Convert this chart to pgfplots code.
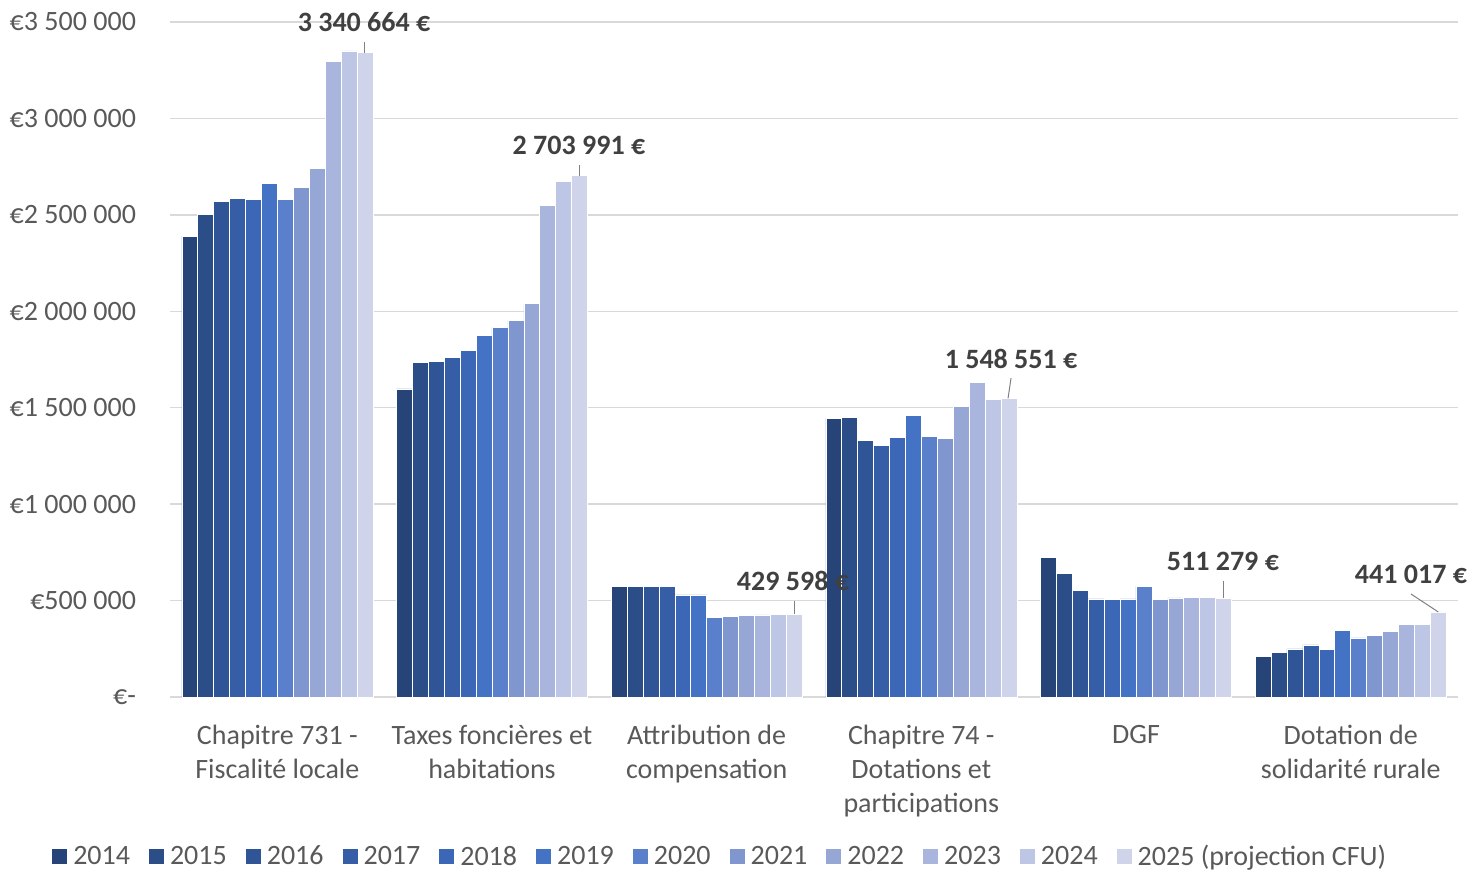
\documentclass[border=0pt]{standalone}
\usepackage{fontspec}
\setmainfont{Carlito}
\usepackage{pgfplots}
\pgfplotsset{compat=1.18}
\definecolor{c14}{HTML}{264478}
\definecolor{c15}{HTML}{2B4D88}
\definecolor{c16}{HTML}{305597}
\definecolor{c17}{HTML}{365EA7}
\definecolor{c18}{HTML}{3B67B6}
\definecolor{c19}{HTML}{4472C4}
\definecolor{c20}{HTML}{5B80CB}
\definecolor{c21}{HTML}{7F96CE}
\definecolor{c22}{HTML}{96A7D6}
\definecolor{c23}{HTML}{AAB5DD}
\definecolor{c24}{HTML}{BEC6E5}
\definecolor{c25}{HTML}{CFD4EA}
\definecolor{gridgray}{HTML}{D9D9D9}
\definecolor{txtgray}{HTML}{595959}
\definecolor{lblgray}{HTML}{404040}
\begin{document}
\begin{tikzpicture}
\useasboundingbox (-85pt,-86.5pt) rectangle (649.5pt,348.5pt);
\begin{axis}[
  scale only axis, width=644pt, height=337.5pt,
  xmin=-0.5, xmax=5.5, ymin=0, ymax=3500000,
  ybar=0pt, bar width=7.96pt,
  axis line style={draw=none},
  major tick length=0pt,
  ymajorgrids, grid style={draw=gridgray, line width=0.75pt},
  scaled y ticks=false,
  ytick={0,500000,1000000,1500000,2000000,2500000,3000000,3500000},
  yticklabels={€-,€500 000,€1 000 000,€1 500 000,€2 000 000,€2 500 000,€3 000 000,€3 500 000},
  yticklabel style={font=\fontsize{14}{17}\selectfont, text=txtgray, xshift=-13.5pt},
  xtick={0,1,2,3,4,5},
  xticklabels={{Chapitre 731 -\\Fiscalité locale},{Taxes foncières et\\habitations},{Attribution de\\compensation},{Chapitre 74 -\\Dotations et\\participations},{DGF},{Dotation de\\solidarité rurale}},
  xticklabel style={font=\fontsize{14}{17}\selectfont, text=txtgray, align=center, yshift=-10.5pt},
  clip=false,
  every axis plot/.append style={draw=white, line width=0.3pt},
  legend columns=12,
  legend style={at={(0.428,-0.237)}, anchor=center, draw=none, fill=none,
    font=\fontsize{14}{17}\selectfont, text=txtgray,
    /tikz/every even column/.append style={column sep=7.5pt},
    /tikz/every odd column/.append style={column sep=1pt}},
  legend image code/.code={\fill[#1,draw=none] (0pt,-3.75pt) rectangle (7.5pt,3.75pt);},
]
\addplot[fill=c14] coordinates {(0,2390000) (1,1597000) (2,572000) (3,1443000) (4,723000) (5,211000)};
\addplot[fill=c15] coordinates {(0,2503000) (1,1734000) (2,572000) (3,1450000) (4,640000) (5,230000)};
\addplot[fill=c16] coordinates {(0,2570000) (1,1742000) (2,572000) (3,1329000) (4,554000) (5,249000)};
\addplot[fill=c17] coordinates {(0,2586000) (1,1760000) (2,572000) (3,1305000) (4,509000) (5,270000)};
\addplot[fill=c18] coordinates {(0,2582000) (1,1799000) (2,529000) (3,1348000) (4,507000) (5,245000)};
\addplot[fill=c19] coordinates {(0,2664000) (1,1875000) (2,529000) (3,1462000) (4,509000) (5,344000)};
\addplot[fill=c20] coordinates {(0,2579000) (1,1918000) (2,411000) (3,1352000) (4,575000) (5,306000)};
\addplot[fill=c21] coordinates {(0,2644000) (1,1953000) (2,416000) (3,1341000) (4,507000) (5,318000)};
\addplot[fill=c22] coordinates {(0,2741000) (1,2041000) (2,423000) (3,1506000) (4,514000) (5,340000)};
\addplot[fill=c23] coordinates {(0,3296000) (1,2551000) (2,426000) (3,1630000) (4,516000) (5,377000)};
\addplot[fill=c24] coordinates {(0,3350000) (1,2674000) (2,428000) (3,1545000) (4,516000) (5,377000)};
\addplot[fill=c25] coordinates {(0,3340664) (1,2703991) (2,429598) (3,1548551) (4,511279) (5,441017)};
\legend{2014,2015,2016,2017,2018,2019,2020,2021,2022,2023,2024,2025 (projection CFU)}
% data labels with leader lines
\draw[gray, line width=0.5pt] (axis cs:0.408,3395000) -- (axis cs:0.408,3340664);
\draw[gray, line width=0.5pt] (axis cs:1.408,2760000) -- (axis cs:1.408,2703991);
\draw[gray, line width=0.5pt] (axis cs:2.408,498000) -- (axis cs:2.408,429598);
\draw[gray, line width=0.5pt] (axis cs:3.418,1654000) -- (axis cs:3.404,1548551);
\draw[gray, line width=0.5pt] (axis cs:4.408,602000) -- (axis cs:4.408,511279);
\draw[gray, line width=0.5pt] (axis cs:5.281,534000) -- (axis cs:5.408,441017);
\node[font=\fontsize{14}{17}\selectfont\bfseries, text=lblgray] at (axis cs:0.404,3500000) {3 340 664 €};
\node[font=\fontsize{14}{17}\selectfont\bfseries, text=lblgray] at (axis cs:1.405,2862000) {2 703 991 €};
\node[font=\fontsize{14}{17}\selectfont\bfseries, text=lblgray] at (axis cs:2.402,601500) {429 598 €};
\node[font=\fontsize{14}{17}\selectfont\bfseries, text=lblgray] at (axis cs:3.418,1752600) {1 548 551 €};
\node[font=\fontsize{14}{17}\selectfont\bfseries, text=lblgray] at (axis cs:4.405,705200) {511 279 €};
\node[font=\fontsize{14}{17}\selectfont\bfseries, text=lblgray] at (axis cs:5.281,637800) {441 017 €};
\end{axis}
\end{tikzpicture}
\end{document}
